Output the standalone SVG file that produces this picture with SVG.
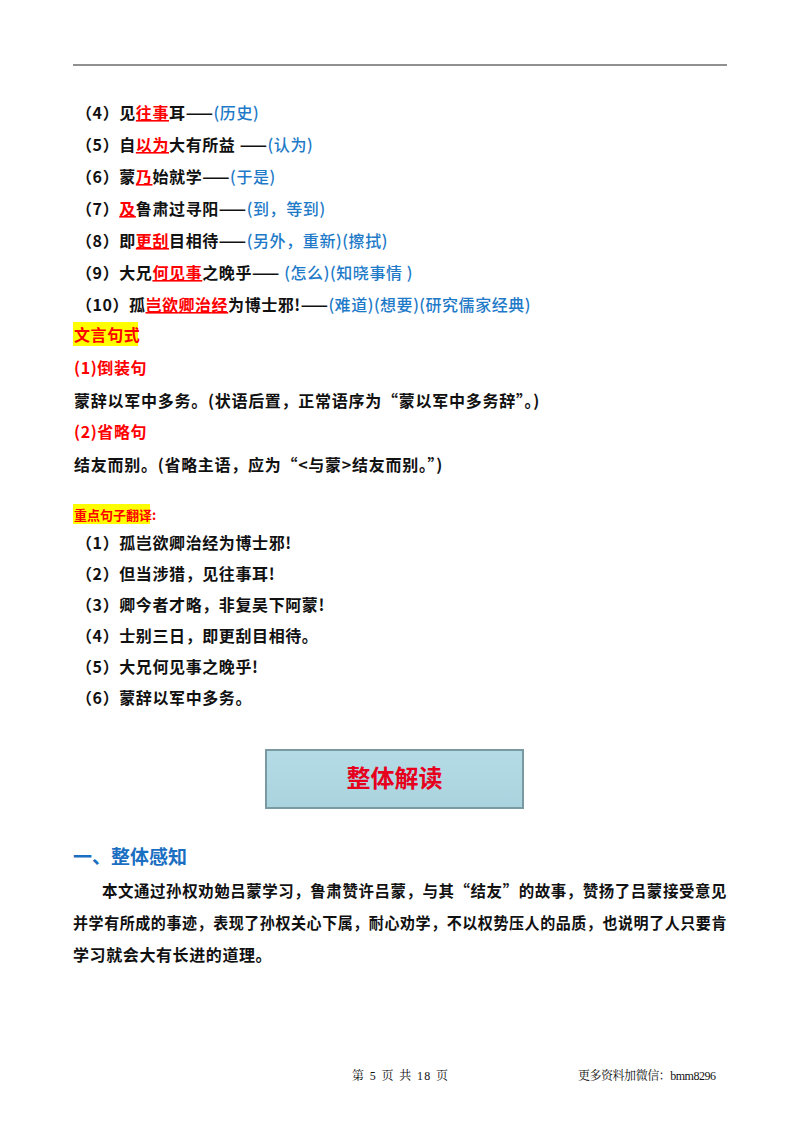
<svg xmlns="http://www.w3.org/2000/svg" width="800" height="1132" viewBox="0 0 800 1132">
<defs>
<style>
text{font-family:"Noto Sans CJK SC",sans-serif;font-size:16px;font-weight:bold;fill:#111;letter-spacing:0.6px}
.r{fill:#f00}
.b{fill:#1e7ac8;font-weight:500}
.u{text-decoration:underline}
.h{fill:#e6001e}
.f{font-family:"Liberation Serif","Noto Serif CJK SC","Noto Sans CJK SC",serif;font-weight:normal;font-size:12px;letter-spacing:0}
</style>
<linearGradient id="g" x1="0" y1="0" x2="0" y2="1"><stop offset="0" stop-color="#b5dce6"/><stop offset="1" stop-color="#a9d3de"/></linearGradient>
</defs>
<rect width="800" height="1132" fill="#fff"/>
<line x1="73" y1="65" x2="727" y2="65" stroke="#222" stroke-width="1"/>
<g id="items">
<text x="76" y="119">（4）见<tspan class="r u">往事</tspan>耳——<tspan class="b">(历史)</tspan></text>
<text x="76" y="151">（5）自<tspan class="r u">以为</tspan>大有所益 ——<tspan class="b">(认为)</tspan></text>
<text x="76" y="183">（6）蒙<tspan class="r u">乃</tspan>始就学——<tspan class="b">(于是)</tspan></text>
<text x="76" y="215">（7）<tspan class="r u">及</tspan>鲁肃过寻阳——<tspan class="b">(到，等到)</tspan></text>
<text x="76" y="247">（8）即<tspan class="r u">更刮</tspan>目相待——<tspan class="b">(另外，重新)(擦拭)</tspan></text>
<text x="76" y="279">（9）大兄<tspan class="r u">何见事</tspan>之晚乎—— <tspan class="b">(怎么)(知晓事情 )</tspan></text>
<text x="76" y="311" textLength="455" lengthAdjust="spacing">（10）孤<tspan class="r u">岂欲卿治经</tspan>为博士邪!——<tspan class="b">(难道)(想要)(研究儒家经典)</tspan></text>
</g>
<g id="syntax">
<rect x="73" y="322" width="65" height="24" fill="#ffff00"/>
<text x="74" y="341" class="r">文言句式</text>
<text x="74" y="374" class="r">(1)倒装句</text>
<text x="74" y="407" textLength="466" lengthAdjust="spacing">蒙辞以军中多务。(状语后置，正常语序为“蒙以军中多务辞”。)</text>
<text x="74" y="438" class="r">(2)省略句</text>
<text x="74" y="471" textLength="369" lengthAdjust="spacing">结友而别。(省略主语，应为“&lt;与蒙&gt;结友而别。”)</text>
</g>
<g id="trans">
<rect x="73" y="504" width="77" height="20" fill="#ffff00"/>
<text x="74" y="520" class="r" style="font-size:13px;letter-spacing:0">重点句子翻译:</text>
<text x="76" y="549">（1）孤岂欲卿治经为博士邪!</text>
<text x="76" y="580">（2）但当涉猎，见往事耳!</text>
<text x="76" y="611">（3）卿今者才略，非复吴下阿蒙!</text>
<text x="76" y="642">（4）士别三日，即更刮目相待。</text>
<text x="76" y="673">（5）大兄何见事之晚乎!</text>
<text x="76" y="704">（6）蒙辞以军中多务。</text>
</g>
<g id="banner">
<rect x="266" y="750" width="257" height="58" fill="url(#g)" stroke="#7a9aa2" stroke-width="2"/>
<text x="394.5" y="787" text-anchor="middle" class="h" style="font-size:24px;letter-spacing:0">整体解读</text>
</g>
<text x="73" y="864" style="font-size:19px;fill:#1a6fc2;letter-spacing:0">一、整体感知</text>
<text x="102" y="897" textLength="625" lengthAdjust="spacingAndGlyphs">本文通过孙权劝勉吕蒙学习，鲁肃赞许吕蒙，与其“结友”的故事，赞扬了吕蒙接受意见</text>
<text x="73" y="929" textLength="654" lengthAdjust="spacingAndGlyphs">并学有所成的事迹，表现了孙权关心下属，耐心劝学，不以权势压人的品质，也说明了人只要肯</text>
<text x="73" y="961">学习就会大有长进的道理。</text>
<text x="352" y="1080" class="f" textLength="96">第 5 页 共 18 页</text>
<text x="578" y="1080" class="f" textLength="138">更多资料加微信：bmm8296</text>
</svg>
